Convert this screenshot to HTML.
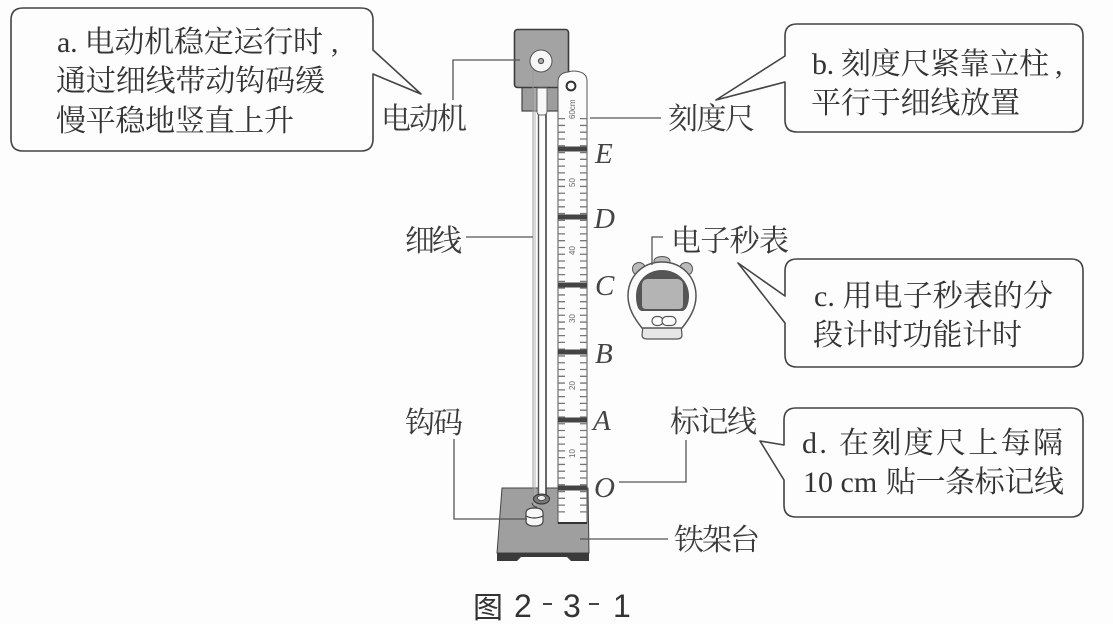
<!DOCTYPE html>
<html><head><meta charset="utf-8">
<style>
html,body{margin:0;padding:0;background:#fdfdfd}
svg{display:block}
.t{font-family:"Liberation Serif","Noto Serif CJK SC",serif;font-size:30px;fill:#333}
.l{font-family:"Liberation Serif","Noto Serif CJK SC",serif;font-size:30px;fill:#3a3a3a}
.i{font-family:"Liberation Serif",serif;font-style:italic;font-size:29px;fill:#444}
.c{font-family:"Liberation Sans","Noto Sans CJK SC",sans-serif;font-size:32px;fill:#333}
.n{font-family:"Liberation Sans",sans-serif;font-size:8px;fill:#666}
.b{fill:#fdfdfd;stroke:#444;stroke-width:1.6;stroke-linejoin:round}
.w{fill:none;stroke:#555;stroke-width:1.3}
</style></head><body>
<svg width="1113" height="624" viewBox="0 0 1113 624" xmlns="http://www.w3.org/2000/svg">
<rect width="1113" height="624" fill="#fdfdfd"/>

<!-- callouts -->
<path class="b" d="M23 8H361Q373 8 373 20V50L421 94L373 74V139Q373 151 361 151H23Q11 151 11 139V20Q11 8 23 8Z"/>
<path class="b" d="M797 24H1071Q1083 24 1083 36V120Q1083 132 1071 132H797Q785 132 785 120V82L716 100L785 56V36Q785 24 797 24Z"/>
<path class="b" d="M797 259H1071Q1083 259 1083 271V355Q1083 367 1071 367H797Q785 367 785 355V323L738 263L785 296V271Q785 259 797 259Z"/>
<path class="b" d="M796 408H1071Q1083 408 1083 420V505Q1083 517 1071 517H796Q784 517 784 505V480L760 441L784 445V420Q784 408 796 408Z"/>

<text class="t" x="57" y="52" textLength="266" lengthAdjust="spacing">a. 电动机稳定运行时</text>
<text class="t" x="331" y="52">,</text>
<text class="t" x="56" y="91" textLength="269" lengthAdjust="spacing">通过细线带动钩码缓</text>
<text class="t" x="56" y="131" textLength="238" lengthAdjust="spacing">慢平稳地竖直上升</text>
<text class="t" x="812" y="74" textLength="237" lengthAdjust="spacing">b. 刻度尺紧靠立柱</text>
<text class="t" x="1055" y="74">,</text>
<text class="t" x="811" y="113" textLength="209" lengthAdjust="spacing">平行于细线放置</text>
<text class="t" x="814" y="306" textLength="239" lengthAdjust="spacing">c. 用电子秒表的分</text>
<text class="t" x="813" y="345" textLength="209" lengthAdjust="spacing">段计时功能计时</text>
<text class="t" x="802" y="453" textLength="261" lengthAdjust="spacing">d. 在刻度尺上每隔</text>
<text class="t" x="803" y="492">10 cm</text>
<text class="t" x="886" y="492" textLength="178" lengthAdjust="spacing">贴一条标记线</text>

<!-- labels -->
<text class="l" x="381" y="129" textLength="86" lengthAdjust="spacing">电动机</text>
<text class="l" x="668" y="129" textLength="87" lengthAdjust="spacing">刻度尺</text>
<text class="l" x="671" y="251" textLength="118" lengthAdjust="spacing">电子秒表</text>
<text class="l" x="405" y="251" textLength="57" lengthAdjust="spacing">细线</text>
<text class="l" x="405" y="433" textLength="58" lengthAdjust="spacing">钩码</text>
<text class="l" x="670" y="432" textLength="87" lengthAdjust="spacing">标记线</text>
<text class="l" x="674" y="550" textLength="86" lengthAdjust="spacing">铁架台</text>

<!-- base -->
<path d="M502 488H588L589 553H497Z" fill="#9f9f9f" stroke="#444" stroke-width="1"/>
<path d="M497 553H589V561H571L567 557H521L517 561H497Z" fill="#3a3a3a"/>

<!-- motor -->
<rect x="522" y="86" width="40" height="25" fill="#9d9d9d" stroke="#444" stroke-width="1.2"/>
<rect x="514.5" y="29.5" width="54" height="58" rx="3" fill="#a3a3a3" stroke="#3c3c3c" stroke-width="1.6"/>
<circle cx="541" cy="61" r="11" fill="#f6f6f6" stroke="#555"/>
<circle cx="541" cy="61" r="2.6" fill="#aaa" stroke="#444"/>

<!-- thread -->
<line x1="533" y1="70" x2="533" y2="505" stroke="#9a9a9a" stroke-width="1"/>
<line x1="535" y1="88" x2="535" y2="505" stroke="#b5b5b5" stroke-width="1"/>

<!-- rod -->
<rect x="539" y="112" width="7.500" height="384" fill="#fdfdfd"/>
<line x1="538.500" y1="113" x2="538.500" y2="496" stroke="#555" stroke-width="1.400"/>
<line x1="546" y1="113" x2="546" y2="496" stroke="#444" stroke-width="1.600"/>
<path d="M537 88V111Q537 115 540 115H544Q547 115 547 111V88Z" fill="#f8f8f8" stroke="#666"/>
<ellipse cx="541.500" cy="499" rx="8" ry="5" fill="#777" stroke="#333"/>
<ellipse cx="541.500" cy="498" rx="4" ry="2.500" fill="#eee" stroke="#444" stroke-width=".8"/>

<!-- weight -->
<path d="M532 503Q533 507 537 507" fill="none" stroke="#444"/>
<path d="M526 513Q526 508 534.500 508Q543 508 543 513V521Q543 526 534.500 526Q526 526 526 521Z" fill="#f8f8f8" stroke="#444" stroke-width="1.200"/>
<path d="M526 516Q534 520 543 516" fill="none" stroke="#333" stroke-width="1.200"/>

<!-- ruler -->
<path d="M558 523V82Q558 73 568 72Q574 70 580 72Q587 74 587 81V523Z" fill="#fcfcfc" stroke="#555" stroke-width="1"/>
<path d="M558 523H587" stroke="#333" stroke-width="2"/>
<circle cx="571" cy="86" r="4.400" fill="#fff" stroke="#333" stroke-width="2"/>
<line x1="561.500" y1="118" x2="561.500" y2="518" stroke="#777" stroke-width="7" stroke-dasharray="1.300 5.480"/>
<line x1="583.500" y1="118" x2="583.500" y2="518" stroke="#777" stroke-width="7" stroke-dasharray="1.300 5.480"/>
<g fill="#444">
<rect x="558" y="146.500" width="29" height="5"/>
<rect x="558" y="214.500" width="29" height="5"/>
<rect x="558" y="282.500" width="29" height="5"/>
<rect x="558" y="349.500" width="29" height="5"/>
<rect x="558" y="417.500" width="29" height="5"/>
<rect x="558" y="485.500" width="29" height="5"/>
</g>
<text class="n" transform="translate(575,119) rotate(-90)">60cm</text>
<text class="n" transform="translate(575,187) rotate(-90)">50</text>
<text class="n" transform="translate(575,255) rotate(-90)">40</text>
<text class="n" transform="translate(575,323) rotate(-90)">30</text>
<text class="n" transform="translate(575,390) rotate(-90)">20</text>
<text class="n" transform="translate(575,458) rotate(-90)">10</text>

<text class="i" x="595" y="163">E</text>
<text class="i" x="594" y="228">D</text>
<text class="i" x="595" y="295">C</text>
<text class="i" x="595" y="363">B</text>
<text class="i" x="593" y="430">A</text>
<text class="i" x="594" y="497">O</text>

<!-- stopwatch -->
<ellipse cx="662" cy="261" rx="8" ry="4.500" fill="#bbb" stroke="#555"/>
<circle cx="639" cy="269" r="6.500" fill="#bbb" stroke="#555"/>
<circle cx="686" cy="269" r="6.500" fill="#bbb" stroke="#555"/>
<path d="M643 326H681L682 335Q682 339 677 339H647Q642 339 642 335Z" fill="#e6e6e6" stroke="#555" stroke-width="1.200"/>
<path d="M662 262C682 262 696 277 696 296C696 308 690 318 682 328H642C634 318 628 308 628 296C628 277 642 262 662 262Z" fill="#fbfbfb" stroke="#555" stroke-width="1.500"/>
<path d="M662 270C677 270 689 281 689 296C689 304 686 311 682 311H642C638 311 636 304 636 296C636 281 647 270 662 270Z" fill="#555"/>
<path d="M647 279H678Q683 280 683 286V305Q683 309 679 309H646Q642 309 642 305V285Q642 280 647 279Z" fill="#b4b4b4"/>
<rect x="652" y="316.500" width="11" height="9" rx="4.500" fill="#fdfdfd" stroke="#555" stroke-width="1.200"/>
<rect x="662" y="316.500" width="14" height="9" rx="4.500" fill="#fdfdfd" stroke="#555" stroke-width="1.200"/>

<!-- leader lines -->
<g class="w">
<path d="M453 100V60H520"/>
<path d="M590 118H661"/>
<path d="M663 237H652V265"/>
<path d="M466 237H533"/>
<path d="M454 439V519H527"/>
<path d="M686 440V482H619"/>
<path d="M580 539H668"/>
</g>

<!-- caption -->
<text class="c" x="473" y="618" style="font-size:30px">图</text>
<text class="c" x="514" y="617">2</text>
<rect x="543" y="603" width="9" height="2" fill="#444"/>
<text class="c" x="563" y="617">3</text>
<rect x="589" y="603" width="10" height="2" fill="#444"/>
<text class="c" x="613" y="617">1</text>
</svg>
</body></html>
